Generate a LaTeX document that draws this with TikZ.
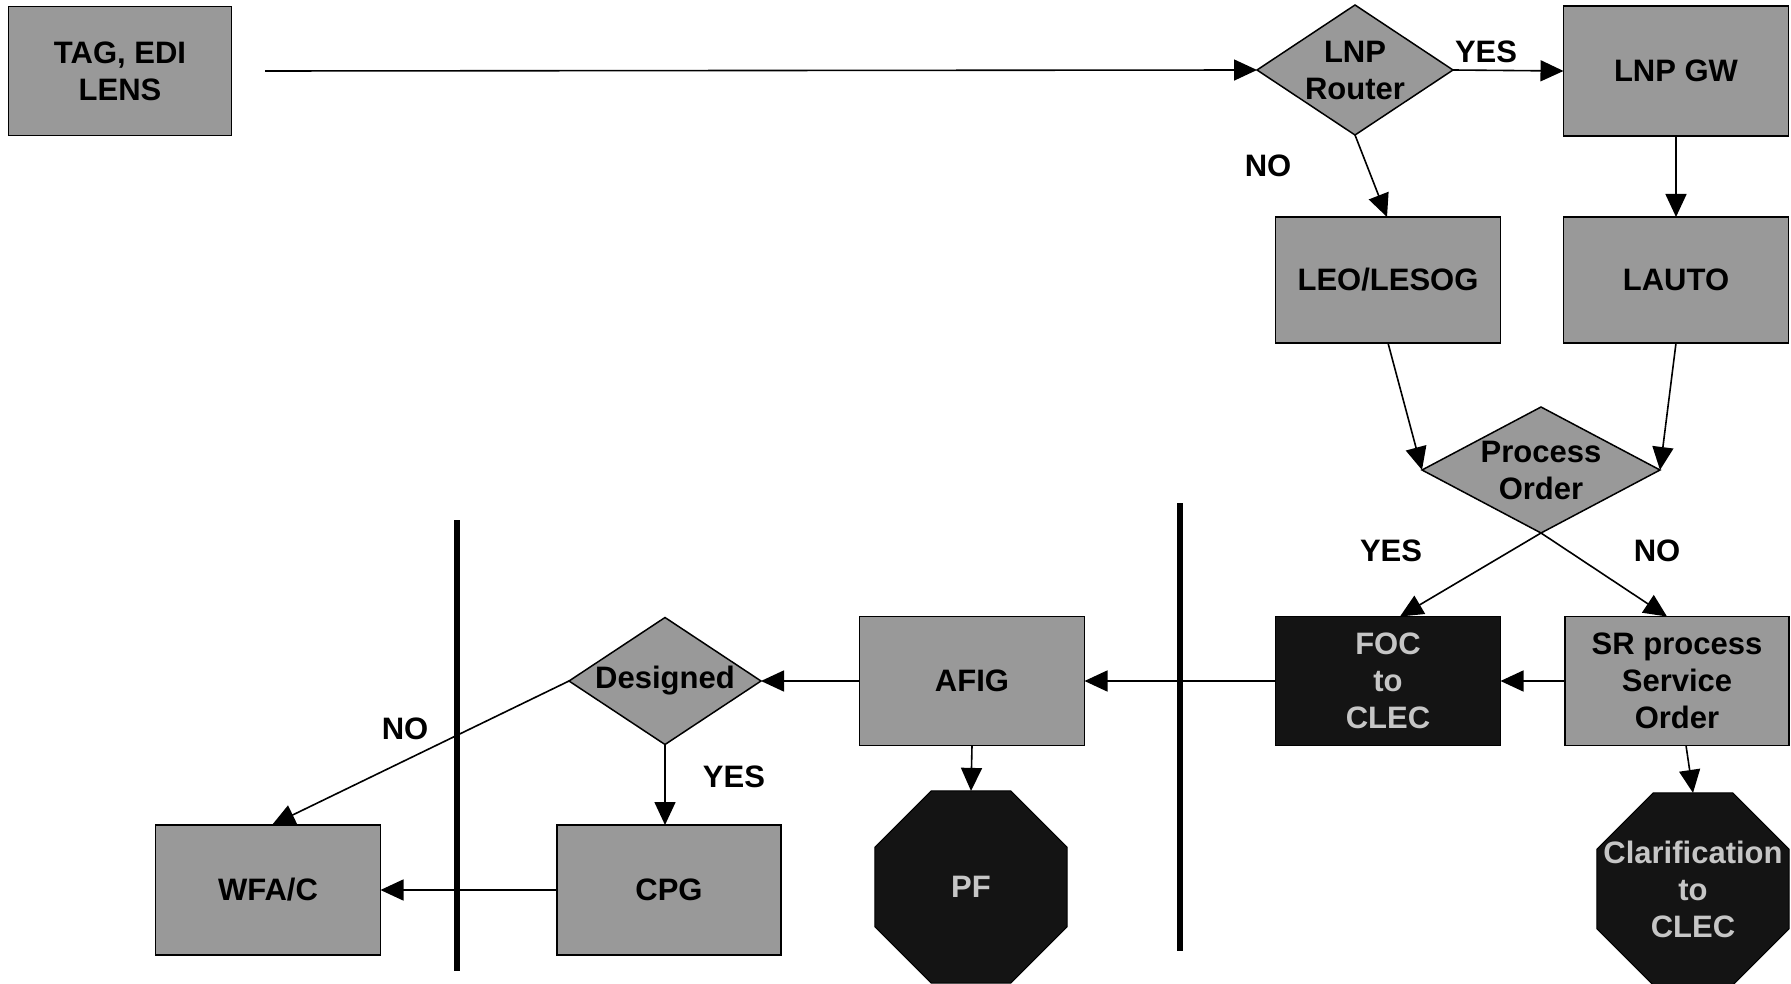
\documentclass[tikz,border=0pt]{standalone}
\usepackage{fontspec}
\setmainfont{Liberation Sans}
\usetikzlibrary{shapes.geometric,arrows.meta}
\begin{document}
\begin{tikzpicture}[x=1pt,y=-1pt,
  every node/.style={inner sep=0pt,outer sep=0pt},
  txt/.style={font=\fontsize{31}{37}\selectfont\bfseries,align=center,text=black},
  dtxt/.style={font=\fontsize{31}{37}\selectfont\bfseries,align=center,text=gray!45},
  lbl/.style={font=\fontsize{31}{37}\selectfont\bfseries,text=black},
  gbox/.style={draw=black,line width=1.5pt,fill=black!40,minimum width=225pt,minimum height=128pt},
  dbox/.style={draw=black,line width=1.5pt,fill=black!92,minimum width=225pt,minimum height=128pt},
  dia/.style={diamond,draw=black,line width=1.5pt,fill=black!40},
  octo/.style={regular polygon,regular polygon sides=8,draw=black,line width=1pt,fill=black!92,minimum size=208pt},
  conn/.style={line width=1.6pt,-{Triangle[length=23pt,width=21pt]}},
  bar/.style={line width=6pt}]
\useasboundingbox (0,0) rectangle (1791,984);

% top row
\node[gbox,minimum width=223pt,minimum height=129pt] (tag) at (120,71) {};
\node[txt] (tagt) at (tag) {TAG, EDI\\LENS};
\coordinate (tagout) at (265,71);

\node[dia,minimum width=196pt,minimum height=130pt] (router) at (1355,70) {};
\node[txt] (routert) at (router) {LNP\\Router};

\node[gbox,minimum height=130pt] (gw) at (1676,71) {};
\node[txt] (gwt) at (gw) {LNP GW};

\node[gbox,minimum height=126pt] (leo) at (1388,280) {};
\node[txt] (leot) at (leo) {LEO/LESOG};

\node[gbox,minimum height=126pt] (lauto) at (1676,280) {};
\node[txt] (lautot) at (lauto) {LAUTO};

\node[dia,minimum width=238pt,minimum height=126pt] (proc) at (1541,470) {};
\node[txt] (proct) at (proc) {Process\\Order};

% middle row
\node[dbox,minimum height=129pt] (foc) at (1388,681) {};
\node[dtxt] (foct) at (foc) {FOC\\to\\CLEC};

\node[gbox,minimum width=224pt,minimum height=129pt] (sr) at (1677,681) {};
\node[txt] (srt) at (sr) {SR process\\Service\\Order};

\node[gbox,minimum height=129pt] (afig) at (972,681) {};
\node[txt] (afigt) at (afig) {AFIG};

\node[dia,minimum width=192pt,minimum height=127pt] (des) at (665,681) {};
\node[txt] (dest) at (des) {Designed};

% bottom row
\node[octo] (pf) at (971,887) {};
\node[dtxt] (pft) at (pf) {PF};

\node[octo] (clar) at (1693,889) {};
\node[dtxt] (clart) at (clar) {Clarification\\to\\CLEC};

\node[gbox,minimum width=224pt,minimum height=130pt] (cpg) at (669,890) {};
\node[txt] (cpgt) at (cpg) {CPG};

\node[gbox,minimum width=225pt,minimum height=130pt] (wfa) at (268,890) {};
\node[txt] (wfat) at (wfa) {WFA/C};

% bars
\coordinate (b1t) at (1180,503);
\coordinate (b1b) at (1180,951);
\coordinate (b2t) at (457,520);
\coordinate (b2b) at (457,971);
\draw[bar] (b1t) -- (b1b);
\draw[bar] (b2t) -- (b2b);

% connectors
\draw[conn] (tagout) -- (router.west);
\draw[conn] (router.east) -- (gw.west);
\draw[conn] (router.south) -- ([xshift=-1pt]leo.north);
\draw[conn] (gw.south) -- (lauto.north);
\draw[conn] (leo.south) -- (proc.west);
\draw[conn] (lauto.south) -- (proc.east);
\draw[conn] (proc.south) -- ([xshift=12pt]foc.north);
\draw[conn] (proc.south) -- ([xshift=-10pt]sr.north);
\draw[conn] (sr.west) -- (foc.east);
\draw[conn] (foc.west) -- (afig.east);
\draw[conn] (afig.south) -- (pf.north);
\draw[conn] ([xshift=9pt]sr.south) -- (clar.north);
\draw[conn] (afig.west) -- (des.east);
\draw[conn] (des.south) -- (des.south |- cpg.north);
\draw[conn] (des.west) -- ([xshift=4pt]wfa.north);
\draw[conn] (cpg.west) -- (wfa.east);

% labels
\node[lbl] (l1) at (1486,52) {YES};
\node[lbl] (l2) at (1268,166) {NO};
\node[lbl] (l3) at (1391,551) {YES};
\node[lbl] (l4) at (1657,551) {NO};
\node[lbl] (l5) at (405,729) {NO};
\node[lbl] (l6) at (734,777) {YES};
\end{tikzpicture}
\end{document}
